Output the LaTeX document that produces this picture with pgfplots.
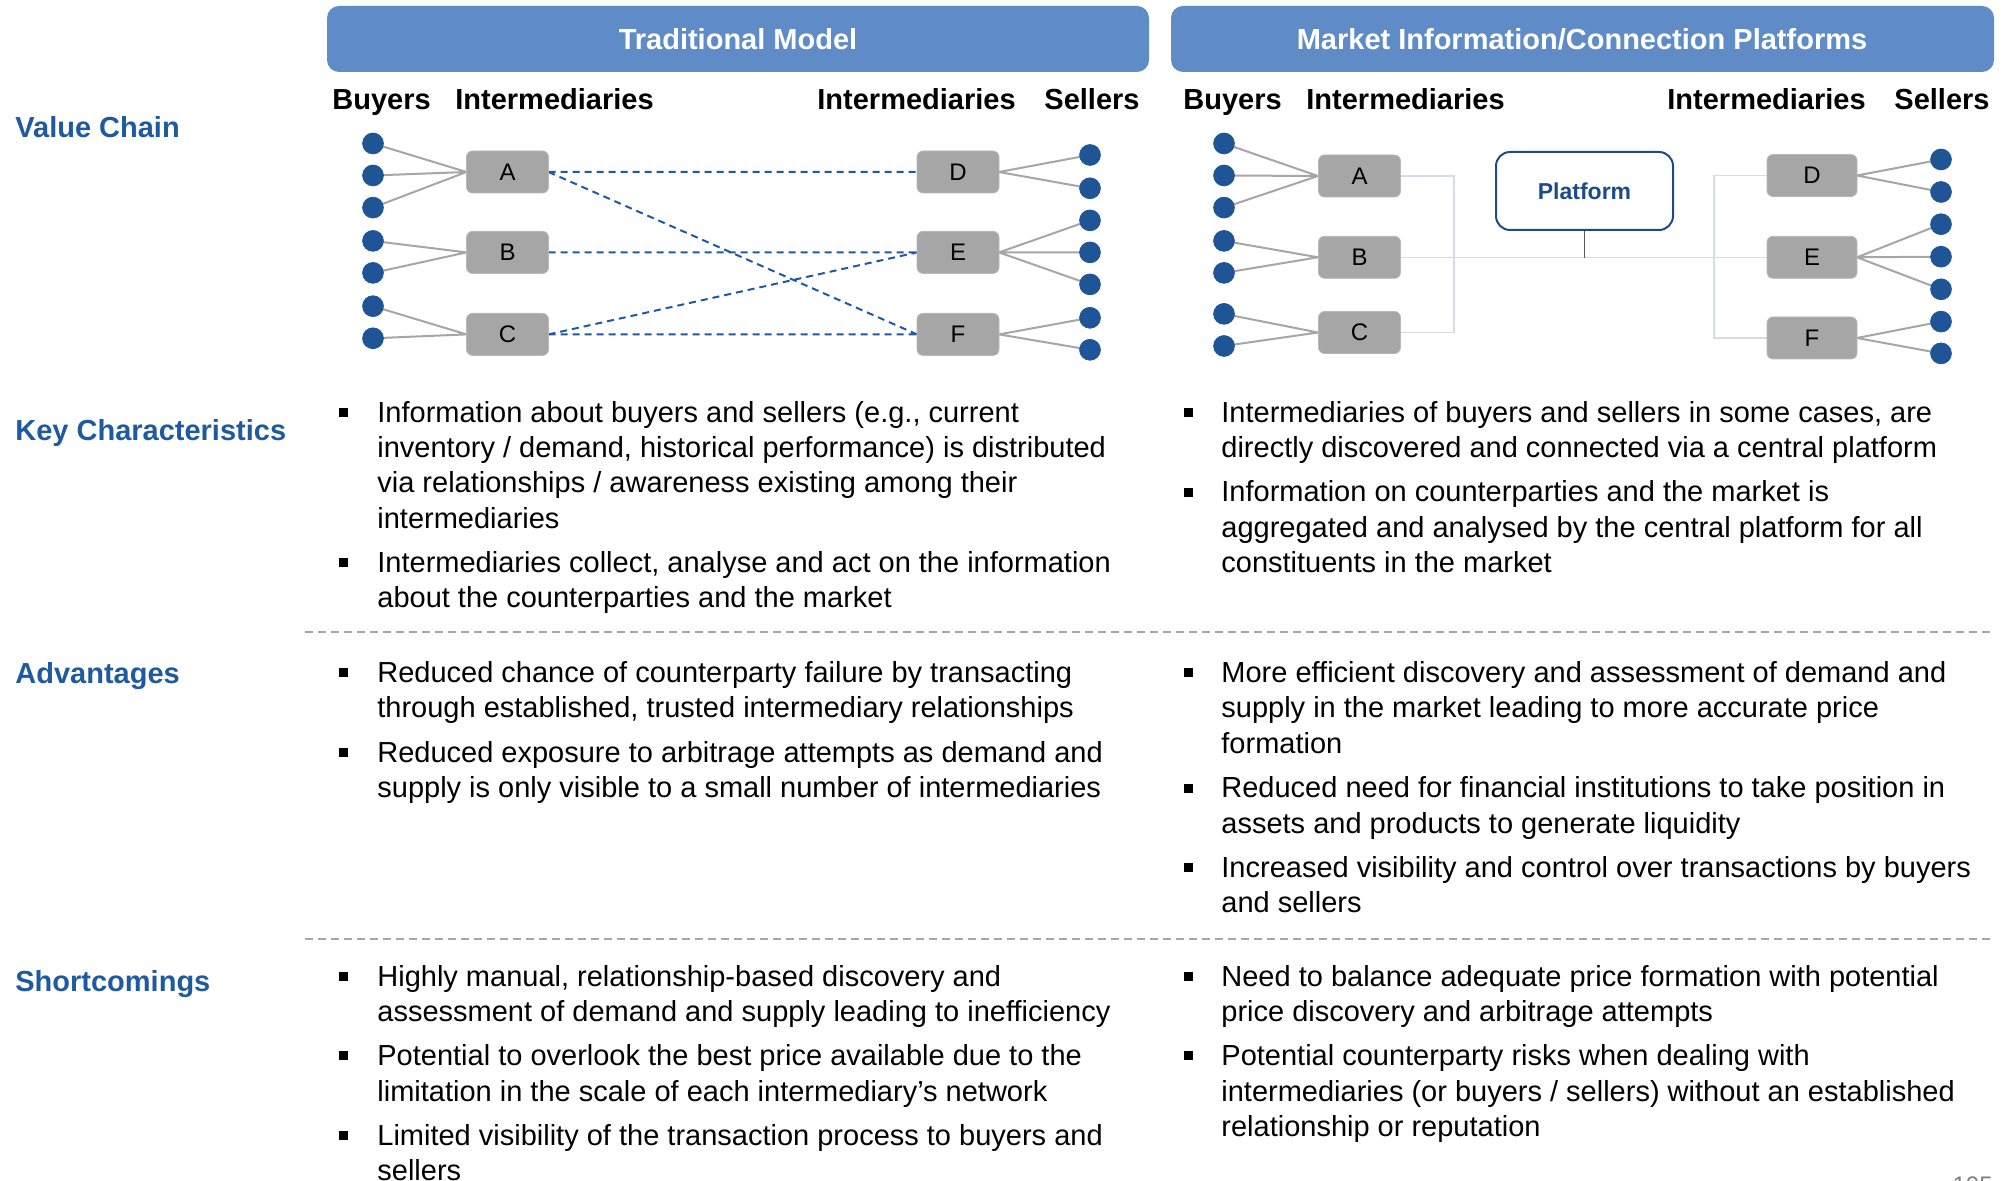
\documentclass[border=0pt]{standalone}
\usepackage{pgfplots}
\pgfplotsset{compat=1.18}
\usepackage{fontspec}
\setmainfont{Liberation Sans}
\definecolor{hdr}{HTML}{5F8BC7}
\definecolor{lab}{HTML}{1F5AA0}
\definecolor{dot}{HTML}{1F5597}
\definecolor{boxg}{HTML}{A6A6A6}
\definecolor{lineg}{HTML}{A6A6A6}
\definecolor{lite}{HTML}{D5DCE8}
\definecolor{plat}{HTML}{1F4A8A}
\newcommand{\body}{\fontsize{14.5}{17.6}\selectfont}
\newcommand{\bl}[3]{\node[anchor=base west,inner sep=0pt,font=\body] at (axis cs:#1,#2) {#3};}
\newcommand{\bx}[4][41pt]{\node[fill=boxg, draw=boxg!80!white, rounded corners=3pt, minimum width=#1, minimum height=21pt, inner sep=0pt, font=\fontsize{12}{14}\selectfont] at (axis cs:#2,#3) {#4};}
\begin{document}
\begin{tikzpicture}
\begin{axis}[
  x=0.5pt, y=0.5pt, xmin=0, xmax=2009, ymin=0, ymax=1181,
  y dir=reverse, hide axis, clip=false, unbounded coords=jump,
  scale only axis]
\coordinate (TL) at (axis cs:0,0);
\coordinate (BR) at (axis cs:2009,1181);
% header bars
\fill[hdr, rounded corners=6pt] (axis cs:327,6) rectangle (axis cs:1149,72);
\fill[hdr, rounded corners=6pt] (axis cs:1171,6) rectangle (axis cs:1994,72);
\node[anchor=base, text=white, font=\body\bfseries] at (axis cs:738,50) {Traditional Model};
\node[anchor=base, text=white, font=\body\bfseries] at (axis cs:1582,50) {Market Information/Connection Platforms};
% row labels
\node[anchor=base west, inner sep=0pt, text=lab, font=\body\bfseries] at (axis cs:15,138) {Value Chain};
\node[anchor=base west, inner sep=0pt, text=lab, font=\body\bfseries] at (axis cs:15,440.5) {Key Characteristics};
\node[anchor=base west, inner sep=0pt, text=lab, font=\body\bfseries] at (axis cs:15,684) {Advantages};
\node[anchor=base west, inner sep=0pt, text=lab, font=\body\bfseries] at (axis cs:15,991.5) {Shortcomings};
% column headers
\node[anchor=base west, inner sep=0pt, font=\body\bfseries] at (axis cs:332,110) {Buyers};
\node[anchor=base west, inner sep=0pt, font=\body\bfseries] at (axis cs:455,110) {Intermediaries};
\node[anchor=base west, inner sep=0pt, font=\body\bfseries] at (axis cs:817,110) {Intermediaries};
\node[anchor=base west, inner sep=0pt, font=\body\bfseries] at (axis cs:1044,110) {Sellers};
\node[anchor=base west, inner sep=0pt, font=\body\bfseries] at (axis cs:1183,110) {Buyers};
\node[anchor=base west, inner sep=0pt, font=\body\bfseries] at (axis cs:1306,110) {Intermediaries};
\node[anchor=base west, inner sep=0pt, font=\body\bfseries] at (axis cs:1667,110) {Intermediaries};
\node[anchor=base west, inner sep=0pt, font=\body\bfseries] at (axis cs:1894,110) {Sellers};
% separators
\draw[lineg, line width=1pt, dash pattern=on 4pt off 2.5pt] (axis cs:305,632) -- (axis cs:1994,632);
\draw[lineg, line width=1pt, dash pattern=on 4pt off 2.5pt] (axis cs:305,939) -- (axis cs:1994,939);
% ---------- left diagram ----------
\addplot[lineg, line width=1pt] coordinates {
 (373,143.5) (466.5,172) (nan,nan) (373,175.5) (466.5,172) (nan,nan) (373,207.6) (466.5,172) (nan,nan)
 (373,240.9) (466.5,252.4) (nan,nan) (373,272.9) (466.5,252.4) (nan,nan)
 (373,306.2) (466.5,334.4) (nan,nan) (373,338.3) (466.5,334.4) (nan,nan)
 (1090,155) (999,172) (nan,nan) (1090,188.3) (999,172) (nan,nan)
 (1090,220.4) (999,252.4) (nan,nan) (1090,252.4) (999,252.4) (nan,nan) (1090,284.4) (999,252.4) (nan,nan)
 (1090,317.8) (999,334.4) (nan,nan) (1090,349.8) (999,334.4)};
\addplot[lab, line width=1pt, dash pattern=on 3.5pt off 2.5pt] coordinates {
 (548.5,172) (917,172) (nan,nan) (548.5,172) (917,334.4) (nan,nan)
 (548.5,252.4) (917,252.4) (nan,nan) (548.5,334.4) (917,252.4) (nan,nan)
 (548.5,334.4) (917,334.4)};
\addplot[only marks, mark=*, mark size=5.2pt, dot] coordinates {
 (373,143.5) (373,175.5) (373,207.6) (373,240.9) (373,272.9) (373,306.2) (373,338.3)
 (1090,155) (1090,188.3) (1090,220.4) (1090,252.4) (1090,284.4) (1090,317.8) (1090,349.8)};
\bx{507.5}{172}{A}
\bx{507.5}{252.4}{B}
\bx{507.5}{334.4}{C}
\bx{958}{172}{D}
\bx{958}{252.4}{E}
\bx{958}{334.4}{F}
% ---------- right diagram ----------
\addplot[lite, line width=0.6pt] coordinates {
 (1400,176) (1454,176) (1454,332.5) (1400,332.5) (nan,nan)
 (1400,257.3) (1767,257.3) (nan,nan)
 (1767,175.5) (1714,175.5) (1714,338) (1767,338)};
\addplot[black!65, line width=0.6pt] coordinates {(1584.5,230) (1584.5,258)};
\addplot[lineg, line width=1pt] coordinates {
 (1224,143.5) (1318,176) (nan,nan) (1224,175.5) (1318,176) (nan,nan) (1224,207.6) (1318,176) (nan,nan)
 (1224,240.9) (1318,257.3) (nan,nan) (1224,272.9) (1318,257.3) (nan,nan)
 (1224,313.9) (1318,332.5) (nan,nan) (1224,346) (1318,332.5) (nan,nan)
 (1941,159.5) (1857,175.5) (nan,nan) (1941,192) (1857,175.5) (nan,nan)
 (1941,224.2) (1857,257.3) (nan,nan) (1941,256.7) (1857,257.3) (nan,nan) (1941,289.3) (1857,257.3) (nan,nan)
 (1941,321.6) (1857,338) (nan,nan) (1941,353.4) (1857,338)};
\addplot[only marks, mark=*, mark size=5.2pt, dot] coordinates {
 (1224,143.5) (1224,175.5) (1224,207.6) (1224,240.9) (1224,272.9) (1224,313.9) (1224,346)
 (1941,159.5) (1941,192) (1941,224.2) (1941,256.7) (1941,289.3) (1941,321.6) (1941,353.4)};
\bx{1359.5}{176}{A}
\bx{1359.5}{257.3}{B}
\bx{1359.5}{332.5}{C}
\bx[45pt]{1812}{175.5}{D}
\bx[45pt]{1812}{257.3}{E}
\bx[45pt]{1812}{338}{F}
\draw[plat, line width=1pt, fill=white, rounded corners=7pt] (axis cs:1496,152) rectangle (axis cs:1673,230);
\node[text=plat, font=\fontsize{11.5}{14}\selectfont\bfseries] at (axis cs:1584.5,191) {Platform};
% ---------- bullets ----------
\addplot[only marks, mark=square*, mark size=2pt, black] coordinates {
 (343,412.6) (343,562.5) (343,672.7) (343,752.1) (343,976.4) (343,1055.8) (343,1135.2)
 (1188,412.6) (1188,492.0) (1188,672.7) (1188,788.0) (1188,867.4) (1188,976.4) (1188,1055.8)};
% Key characteristics
\bl{377}{422.6}{Information about buyers and sellers (e.g., current}
\bl{377}{457.8}{inventory / demand, historical performance) is distributed}
\bl{377}{493.0}{via relationships / awareness existing among their}
\bl{377}{528.2}{intermediaries}
\bl{377}{572.5}{Intermediaries collect, analyse and act on the information}
\bl{377}{607.7}{about the counterparties and the market}
\bl{1221}{422.6}{Intermediaries of buyers and sellers in some cases, are}
\bl{1221}{457.8}{directly discovered and connected via a central platform}
\bl{1221}{502.0}{Information on counterparties and the market is}
\bl{1221}{537.2}{aggregated and analysed by the central platform for all}
\bl{1221}{572.4}{constituents in the market}
% Advantages
\bl{377}{682.7}{Reduced chance of counterparty failure by transacting}
\bl{377}{717.9}{through established, trusted intermediary relationships}
\bl{377}{762.1}{Reduced exposure to arbitrage attempts as demand and}
\bl{377}{797.3}{supply is only visible to a small number of intermediaries}
\bl{1221}{682.7}{More efficient discovery and assessment of demand and}
\bl{1221}{717.9}{supply in the market leading to more accurate price}
\bl{1221}{753.1}{formation}
\bl{1221}{798.0}{Reduced need for financial institutions to take position in}
\bl{1221}{833.2}{assets and products to generate liquidity}
\bl{1221}{877.4}{Increased visibility and control over transactions by buyers}
\bl{1221}{912.6}{and sellers}
% Shortcomings
\bl{377}{986.4}{Highly manual, relationship-based discovery and}
\bl{377}{1021.6}{assessment of demand and supply leading to inefficiency}
\bl{377}{1065.8}{Potential to overlook the best price available due to the}
\bl{377}{1101.0}{limitation in the scale of each intermediary’s network}
\bl{377}{1145.2}{Limited visibility of the transaction process to buyers and}
\bl{377}{1180.4}{sellers}
\bl{1221}{986.4}{Need to balance adequate price formation with potential}
\bl{1221}{1021.6}{price discovery and arbitrage attempts}
\bl{1221}{1065.8}{Potential counterparty risks when dealing with}
\bl{1221}{1101.0}{intermediaries (or buyers / sellers) without an established}
\bl{1221}{1136.2}{relationship or reputation}
\node[anchor=base east, inner sep=0pt, text=black!50, font=\fontsize{12}{14}\selectfont] at (axis cs:1993,1193) {105};
\end{axis}
\pgfresetboundingbox
\path[use as bounding box] (TL) rectangle (BR);
\end{tikzpicture}
\end{document}
